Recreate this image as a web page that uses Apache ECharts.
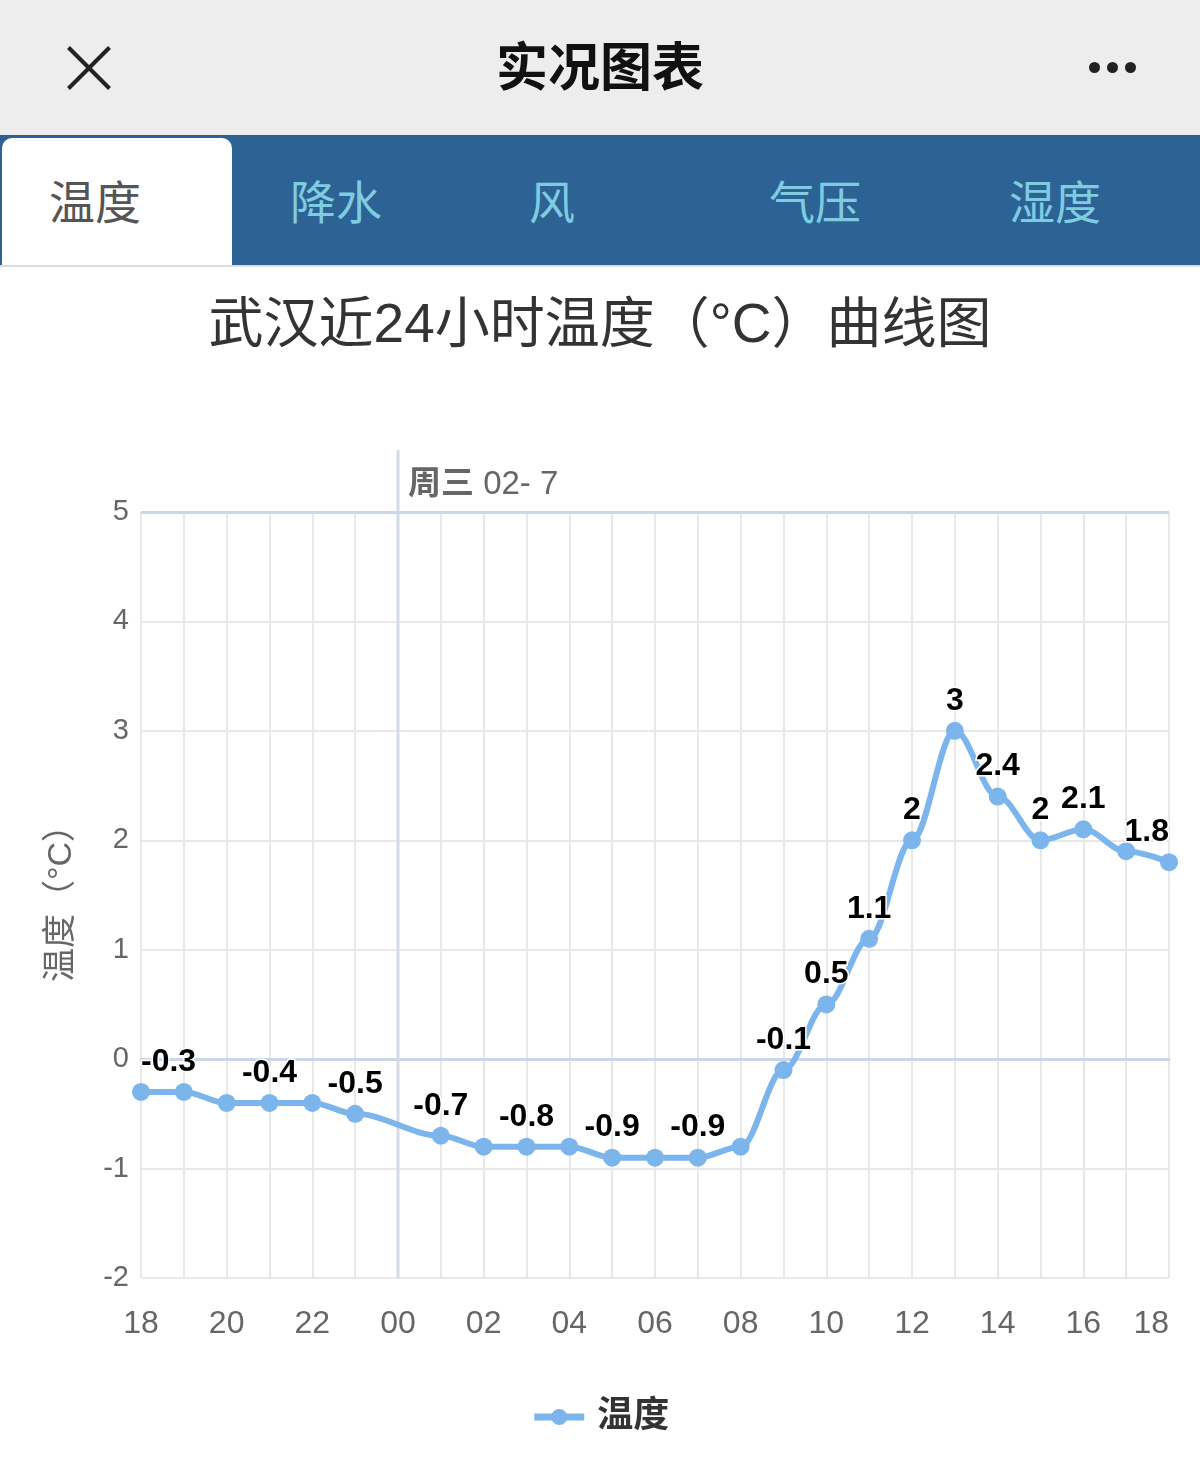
<!DOCTYPE html>
<html>
<head>
    <meta charset="UTF-8">
    <title>实况图表</title>
    <script src="https://cdn.jsdelivr.net/npm/echarts@6/dist/echarts.min.js"></script>
    <style>
        body { margin: 0; width: 1200px; height: 1468px; background: #fff; overflow: hidden;
               font-family: "Liberation Sans", "Noto Sans CJK SC", sans-serif; }
        #topbar { position: absolute; left: 0; top: 0; width: 1200px; height: 135px; background: #ededed; }
        #topbar .ttl { position: absolute; left: 0; width: 1200px; top: 36px; text-align: center;
                       font-size: 52px; font-weight: bold; color: #111; line-height: 64px; }
        .xl { position: absolute; left: 60px; top: 66px; width: 58px; height: 4px; background: #222; }
        .dot { position: absolute; top: 62px; width: 11px; height: 11px; border-radius: 50%; background: #222; }
        #tabs { position: absolute; left: 0; top: 135px; width: 1200px; height: 130px; background: #2c6394;
                border-bottom: 2px solid #d9dee4; }
        #tabs .tab { position: absolute; top: 38px; font-size: 46px; color: #7fcbe0; line-height: 60px;
                     transform: translateX(-50%); }
        #active { position: absolute; left: 2px; top: 3px; width: 230px; height: 127px; background: #fff;
                  border-radius: 10px 10px 0 0; }
        #chart { position: absolute; left: 0; top: 267px; width: 1200px; height: 1201px; }
    </style>
</head>
<body>
<div id="topbar">
    <div class="xl" style="transform: rotate(45deg)"></div>
    <div class="xl" style="transform: rotate(-45deg)"></div>
    <div class="ttl">实况图表</div>
    <div class="dot" style="left:1089px"></div>
    <div class="dot" style="left:1107px"></div>
    <div class="dot" style="left:1125px"></div>
</div>
<div id="tabs">
    <div id="active"></div>
    <div class="tab" style="left:95px;color:#555">温度</div>
    <div class="tab" style="left:336px">降水</div>
    <div class="tab" style="left:552px">风</div>
    <div class="tab" style="left:815px">气压</div>
    <div class="tab" style="left:1055px">湿度</div>
</div>
<div id="chart"></div>
<script>
    // 武汉 24 小时温度，00 点缺测
    var hours = ['18', '19', '20', '21', '22', '23', '00', '01', '02', '03', '04', '05', '06',
                 '07', '08', '09', '10', '11', '12', '13', '14', '15', '16', '17', '18 '];
    var temps = [-0.3, -0.3, -0.4, -0.4, -0.4, -0.5, null, -0.7, -0.8, -0.8, -0.8, -0.9, -0.9,
                 -0.9, -0.8, -0.1, 0.5, 1.1, 2, 3, 2.4, 2, 2.1, 1.9, 1.8];
    // 重叠后仍显示的数值标签
    var labelShown = [1, 0, 0, 1, 0, 1, 0, 1, 0, 1, 0, 1, 0,
                      1, 0, 1, 1, 1, 1, 1, 1, 1, 1, 0, 1];
    var dayMark = '00';
    var dayText = '周三';
    var dayDate = '02- 7';

    var fontFam = '"Liberation Sans", "Noto Sans CJK SC", sans-serif';
    var blue = '#7cb5ec';

    var seriesData = temps.map(function (v, i) {
        var item = {value: v, label: {show: !!labelShown[i]}};
        if (i === 0) item.label.align = 'left';
        if (i === temps.length - 1) item.label.align = 'right';
        return item;
    });

    var chart = echarts.init(document.getElementById('chart'), null, {renderer: 'canvas'});
    chart.setOption({
        animation: false,
        textStyle: {fontFamily: fontFam},
        title: {
            text: '武汉近24小时温度（°C）曲线图',
            left: 'center',
            top: 27,
            textStyle: {fontSize: 55, fontWeight: 'normal', color: '#333', fontFamily: fontFam}
        },
        legend: {
            bottom: 28,
            left: 'center',
            itemWidth: 50,
            itemHeight: 20,
            itemGap: 16,
            lineStyle: {width: 7},
            textStyle: {fontSize: 36, fontWeight: 'bold', color: '#333', fontFamily: fontFam,
                        padding: [0, 0, 0, 8]},
            data: ['温度']
        },
        grid: {left: 141, right: 31, top: 245, bottom: 190},
        xAxis: {
            type: 'category',
            boundaryGap: false,
            data: hours,
            axisLine: {lineStyle: {color: '#ccd6eb', width: 3}},
            axisTick: {show: false},
            axisLabel: {interval: 1, fontSize: 32, color: '#666', margin: 30, alignMaxLabel: 'right',
                        formatter: function (v) { return v.trim(); }},
            splitLine: {show: true, interval: 0, lineStyle: {color: '#e8e8e8', width: 2}}
        },
        yAxis: {
            type: 'value',
            min: -2,
            max: 5,
            interval: 1,
            name: '温度（°C）',
            nameLocation: 'middle',
            nameGap: 62,
            nameTextStyle: {fontSize: 34, color: '#666'},
            axisLine: {show: false},
            axisTick: {show: false},
            axisLabel: {fontSize: 29, color: '#666', margin: 12},
            splitLine: {lineStyle: {color: '#e8e8e8', width: 2}}
        },
        series: [{
            name: '温度',
            type: 'line',
            data: seriesData,
            connectNulls: true,
            smooth: 0.35,
            smoothMonotone: 'x',
            symbol: 'circle',
            symbolSize: 18,
            itemStyle: {color: blue},
            lineStyle: {color: blue, width: 6},
            label: {
                show: false,
                position: 'top',
                distance: 5,
                fontSize: 32,
                fontWeight: 'bold',
                color: '#000',
                textBorderColor: '#fff',
                textBorderWidth: 3,
                formatter: function (p) { return p.value; }
            },
            markLine: {
                silent: true,
                symbol: 'none',
                label: {show: false},
                lineStyle: {color: '#ccd6eb', width: 3, type: 'solid'},
                data: [{yAxis: 5}]
            },
            z: 3
        }]
    });

    // 日期分界线（伸出绘图区上方）
    var xDay = chart.convertToPixel({xAxisIndex: 0}, dayMark);
    var yTop = chart.convertToPixel({yAxisIndex: 0}, 5);
    var yBot = chart.convertToPixel({yAxisIndex: 0}, -2);
    chart.setOption({
        graphic: [{
            type: 'line',
            z: 1,
            shape: {x1: xDay, y1: yTop - 62, x2: xDay, y2: yBot},
            style: {stroke: '#d5dbe4', lineWidth: 3}
        }, {
            type: 'text',
            z: 5,
            x: xDay + 10,
            y: yTop - 27,
            style: {
                text: '{b|' + dayText + '} ' + dayDate,
                fontSize: 33,
                fill: '#666',
                fontFamily: fontFam,
                verticalAlign: 'middle',
                rich: {b: {fontSize: 33, fontWeight: 'bold', fill: '#666', fontFamily: fontFam}}
            }
        }]
    });
</script>
</body>
</html>
